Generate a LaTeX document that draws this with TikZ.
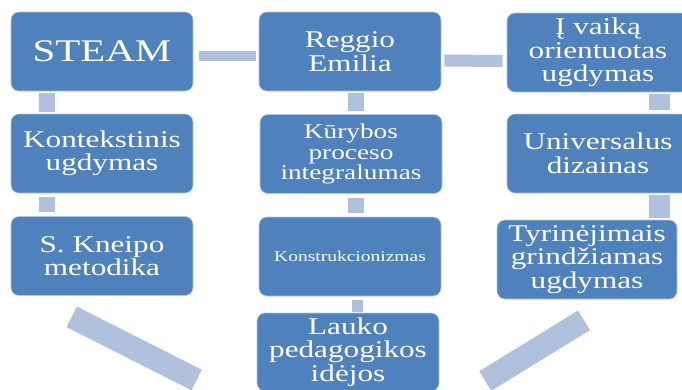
\documentclass[tikz,border=0pt]{standalone}
\usepackage{fontspec}
\setmainfont[FakeStretch=1.3]{Liberation Serif}
\usetikzlibrary{calc}
\definecolor{boxblue}{HTML}{4F81BD}
\definecolor{barblue}{HTML}{B0C1DD}

\begin{document}
\begin{tikzpicture}[x=1pt, y=-1pt,
        idea/.style={fill=boxblue, draw=white!55!boxblue, line width=0.6pt,
            rounded corners=8pt, text=white, align=center, inner sep=0pt,
            minimum width=182pt, minimum height=79pt,
            font=\fontsize{24}{23.5}\selectfont},
        link/.style={barblue, line width=16pt}]
        \useasboundingbox (0,0) rectangle (682,389);
        \clip (0,0) rectangle (682,389);

        \node[idea, font=\fontsize{31.5}{32}\selectfont] (steam) at (102,51.5) {STEAM};
        \node[idea] (reggio) at (350,51.5) {Reggio\\Emilia};
        \node[idea] (vaikas) at (598,52.5) {Į vaiką\\orientuotas\\ugdymas};

        \node[idea] (kont) at (102,153.5) {Kontekstinis\\ugdymas};
        \node[idea, font=\fontsize{21}{20.5}\selectfont] (kuryb) at (351,154) {Kūrybos\\proceso\\integralumas};
        \node[idea] (univ) at (598,153.5) {Universalus\\dizainas};

        \node[idea] (kneipo) at (102,256) {S. Kneipo\\metodika};
        \node[idea, font=\fontsize{15}{16}\selectfont] (konstr) at (350,256.5) {Konstrukcionizmas};
        \node[idea, minimum width=180pt] (tyr) at (587,259.5) {Tyrinėjimais\\grindžiamas\\ugdymas};

        \node[idea, minimum height=78pt] (lauko) at (348,352) {Lauko\\pedagogikos\\idėjos};

        \draw[link, line width=10pt] ($(steam.east)+(6,4.5)$) -- ($(reggio.west)+(-3,4.5)$);
        \draw[link, line width=12pt] ($(reggio.east)+(3,9)$) -- ($(vaikas.west)+(-4,8.5)$);
        \draw[link] ($(steam.south west)+(36,2)$) -- ($(kont.north west)+(36,-2)$);
        \draw[link] ($(kont.south west)+(36,4)$) -- ($(kneipo.north west)+(36,-4)$);
        \draw[link] ($(reggio.south)+(6,2)$) -- ($(kuryb.north)+(5,-3)$);
        \draw[link] ($(kuryb.south)+(5,4)$) -- ($(konstr.north)+(6,-4)$);
        \draw[link, line width=11pt] ($(konstr.south)+(7,4)$) -- ($(lauko.north)+(9,-1)$);
        \draw[link, line width=21pt] ($(vaikas.south)+(61.5,2)$) -- ($(univ.north)+(61.5,-4)$);
        \draw[link, line width=21pt] ($(univ.south)+(61.5,2)$) -- ($(tyr.north)+(72.5,-2)$);
        \draw[link, line width=23pt] ($(kneipo.south west)+(61,21)$) -- ($(lauko.west)+(-60,28)$);
        \draw[link, line width=23pt] ($(tyr.south)+(-3,21)$) -- ($(lauko.east)+(46,29)$);
\end{tikzpicture}
\end{document}
